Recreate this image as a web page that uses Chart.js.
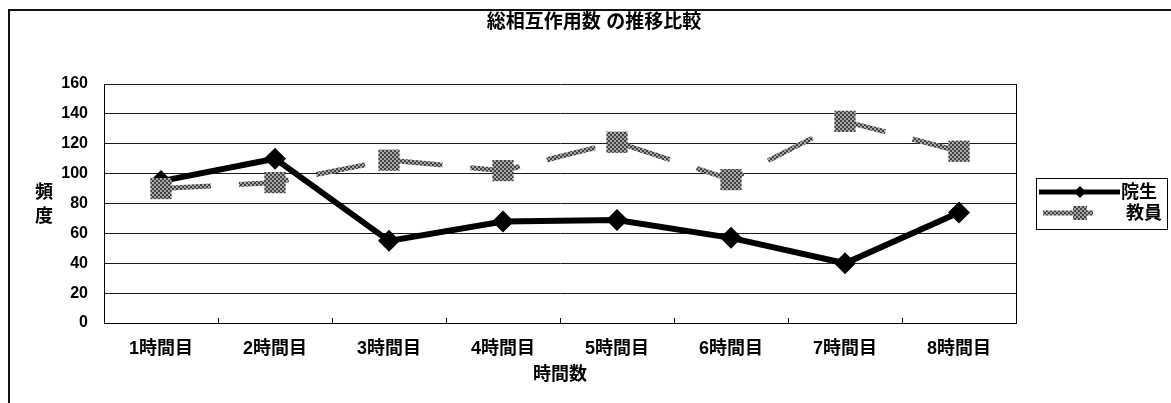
<!DOCTYPE html>
<html>
<head>
<meta charset="utf-8">
<script src="https://cdn.jsdelivr.net/npm/chart.js@4.4.1/dist/chart.umd.min.js"></script>
<style>
  html, body { margin: 0; padding: 0; background: #fff; }
  #wrap { width: 1171px; height: 403px; }
</style>
</head>
<body>
<div id="wrap"><canvas id="c" width="1171" height="403"></canvas></div>
<script>
// ---- data ----
const categories = ['1時間目', '2時間目', '3時間目', '4時間目', '5時間目', '6時間目', '7時間目', '8時間目'];
const inseiValues = [95, 110, 55, 68, 69, 57, 40, 74];   // 院生
const kyoinValues = [90, 94, 109, 102, 121, 96, 135, 115]; // 教員
const yTickValues = [0, 20, 40, 60, 80, 100, 120, 140, 160];
const seriesNames = ['院生', '教員'];
const chartTitle = '総相互作用数 の推移比較';
const xAxisTitle = '時間数';
const yAxisTitle = ['頻', '度'];

const FONT = "'Liberation Sans', 'Noto Sans CJK JP', sans-serif";
const canvas = document.getElementById('c');
const ctx = canvas.getContext('2d');

// halftone-like grey fill used by the 教員 series
const pc = document.createElement('canvas');
pc.width = 4; pc.height = 4;
const pg = pc.getContext('2d');
pg.fillStyle = '#a8a8a8'; pg.fillRect(0, 0, 4, 4);
pg.fillStyle = '#404040'; pg.fillRect(0, 0, 2, 2); pg.fillRect(2, 2, 2, 2);
const greyPattern = ctx.createPattern(pc, 'repeat');

const DASH = [50, 28];

// outer frame of the chart sheet and the sheet title
const framePlugin = {
  id: 'frame',
  beforeDraw(chart) {
    const c = chart.ctx;
    c.save();
    c.fillStyle = '#fff';
    c.fillRect(0, 0, chart.width, chart.height);
    c.fillStyle = '#111';
    c.fillRect(8, 9, chart.width - 8, 2);
    c.fillRect(8, 9, 2, chart.height - 9);
    c.fillStyle = '#000';
    c.font = 'bold 19px ' + FONT;
    c.textAlign = 'center';
    c.textBaseline = 'middle';
    c.fillText(chartTitle, 594, 23);
    c.restore();
  }
};

// right edge of the plot area and the small inward category ticks
const plotEdgePlugin = {
  id: 'plotEdge',
  beforeDatasetsDraw(chart) {
    const c = chart.ctx;
    const a = chart.chartArea;
    const xs = chart.scales.x;
    c.save();
    c.strokeStyle = '#000';
    c.lineWidth = 1;
    c.beginPath();
    c.moveTo(Math.round(a.right) + 0.5, a.top);
    c.lineTo(Math.round(a.right) + 0.5, a.bottom);
    const n = categories.length;
    for (let i = 1; i < n; i++) {
      const bx = Math.round((xs.getPixelForTick(i - 1) + xs.getPixelForTick(i)) / 2) + 0.5;
      c.moveTo(bx, a.bottom);
      c.lineTo(bx, a.bottom - 5);
    }
    c.stroke();
    c.restore();
  }
};

// stacked vertical axis title
const yTitlePlugin = {
  id: 'yTitle',
  afterDraw(chart) {
    const c = chart.ctx;
    c.save();
    c.fillStyle = '#000';
    c.font = 'bold 18px ' + FONT;
    c.textAlign = 'center';
    c.textBaseline = 'middle';
    yAxisTitle.forEach((ch, i) => c.fillText(ch, 44, 193 + i * 24));
    c.restore();
  }
};

// boxed legend with line + marker samples
const legendBoxPlugin = {
  id: 'legendBox',
  afterDraw(chart) {
    const c = chart.ctx;
    const ds = chart.data.datasets;
    c.save();
    c.strokeStyle = '#000';
    c.lineWidth = 1;
    c.strokeRect(1036.5, 178.5, 131, 51);

    // 院生
    c.strokeStyle = '#000';
    c.lineWidth = 5;
    c.beginPath(); c.moveTo(1039, 192); c.lineTo(1120, 192); c.stroke();
    c.fillStyle = '#000';
    c.beginPath();
    c.moveTo(1080 - 6, 192); c.lineTo(1080, 186); c.lineTo(1080 + 6, 192); c.lineTo(1080, 198);
    c.closePath(); c.fill();

    // 教員
    c.strokeStyle = greyPattern;
    c.lineWidth = 5;
    c.beginPath(); c.moveTo(1043, 213); c.lineTo(1093, 213); c.stroke();
    c.fillStyle = greyPattern;
    c.fillRect(1073, 206, 14, 14);

    c.fillStyle = '#000';
    c.font = 'bold 18px ' + FONT;
    c.textAlign = 'left';
    c.textBaseline = 'middle';
    c.fillText(ds[0].label, 1121, 193);
    c.fillText(ds[1].label, 1126, 214);
    c.restore();
  }
};

new Chart(ctx, {
  type: 'line',
  data: {
    labels: categories,
    datasets: [
      {
        label: seriesNames[0],
        data: inseiValues,
        borderColor: '#000',
        backgroundColor: '#000',
        borderWidth: 6,
        pointStyle: 'rectRot',
        pointRadius: 11,
        pointBorderWidth: 0,
        pointBackgroundColor: '#000',
        tension: 0,
        fill: false,
        order: 2
      },
      {
        label: seriesNames[1],
        data: kyoinValues,
        borderColor: greyPattern,
        backgroundColor: greyPattern,
        borderWidth: 5,
        borderDash: DASH,
        pointStyle: 'rect',
        pointRadius: 15,
        pointBorderWidth: 0,
        pointBackgroundColor: greyPattern,
        tension: 0,
        fill: false,
        order: 1
      }
    ]
  },
  options: {
    responsive: false,
    animation: false,
    devicePixelRatio: 1,
    layout: { padding: { left: 0, right: 155, top: 84, bottom: 0 } },
    plugins: {
      legend: { display: false },
      tooltip: { enabled: false },
      title: { display: false }
    },
    scales: {
      x: {
        type: 'category',
        offset: true,
        grid: { display: false, drawTicks: false },
        border: { display: true, color: '#000', width: 1 },
        ticks: {
          color: '#000',
          font: { family: FONT, size: 18, weight: 'bold', lineHeight: 1.2 },
          padding: 15,
          maxRotation: 0,
          autoSkip: false
        },
        title: {
          display: true,
          text: xAxisTitle,
          color: '#000',
          font: { family: FONT, size: 18, weight: 'bold', lineHeight: 1.2 },
          padding: { top: 0, bottom: 17 }
        },
        afterFit(scale) { scale.height = 80; }
      },
      y: {
        min: yTickValues[0],
        max: yTickValues[yTickValues.length - 1],
        afterBuildTicks(scale) { scale.ticks = yTickValues.map(v => ({ value: v })); },
        grid: { color: '#1a1a1a', lineWidth: 1, drawTicks: false },
        border: { display: true, color: '#000', width: 1 },
        ticks: {
          color: '#000',
          font: { family: FONT, size: 16, weight: 'bold' },
          padding: 16
        },
        afterFit(scale) { scale.width = 104; }
      }
    }
  },
  plugins: [framePlugin, plotEdgePlugin, yTitlePlugin, legendBoxPlugin]
});
</script>
</body>
</html>
